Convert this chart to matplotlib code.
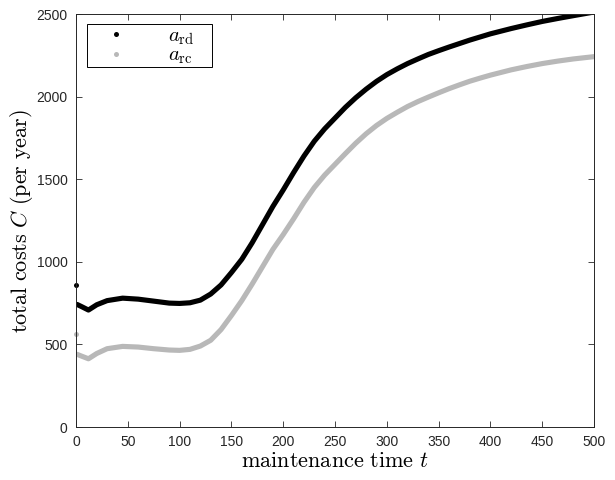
import numpy as np
import matplotlib
matplotlib.use("Agg")
import matplotlib.pyplot as plt
from matplotlib.patches import Rectangle

# =============================================================================
# Data
# =============================================================================

t = [1, 5, 12, 20, 30, 45, 60, 75, 90, 100, 110, 120, 130, 140, 150, 160, 170,
     180, 190, 200, 210, 220, 230, 240, 250, 260, 270, 280, 290, 300, 310, 320,
     330, 340, 350, 360, 370, 380, 390, 400, 410, 420, 435, 450, 465, 480, 490,
     500]

cost_rd = [742, 730, 708, 740, 765, 780, 774, 762, 750, 748, 752, 768, 805, 860,
           935, 1015, 1115, 1225, 1335, 1435, 1540, 1640, 1730, 1805, 1870, 1935,
           1993, 2045, 2092, 2133, 2168, 2200, 2228, 2255, 2278, 2300, 2321, 2342,
           2361, 2380, 2396, 2412, 2434, 2455, 2473, 2490, 2501, 2512]

cost_rc = [440, 430, 413, 445, 474, 488, 484, 474, 466, 464, 470, 490, 525, 590,
           675, 765, 865, 970, 1075, 1165, 1260, 1360, 1450, 1525, 1590, 1655,
           1718, 1775, 1825, 1868, 1905, 1940, 1970, 1997, 2023, 2048, 2071, 2093,
           2112, 2130, 2146, 2162, 2182, 2200, 2215, 2228, 2235, 2242]

# value at t = 0 (separate point)
t0 = [0]
cost_rd0 = [857]
cost_rc0 = [560]

labels = [r'$a_{\mathrm{rd}}$', r'$a_{\mathrm{rc}}$']
xticks = np.arange(0, 501, 50)
yticks = np.arange(0, 2501, 500)

# =============================================================================
# Plot
# =============================================================================

plt.rcParams['mathtext.fontset'] = 'cm'
plt.rcParams['font.family'] = 'Liberation Sans'

BLACK = 'k'
GRAY = (0.72, 0.72, 0.72)

fig = plt.figure(figsize=(6.15, 4.8), dpi=100)
ax = fig.add_axes([0.1236, 0.1104, 0.8423, 0.8604])

ax.plot(t0, cost_rd0, 'o', color=BLACK, ms=3.6, mew=0, label=labels[0], clip_on=False)
ax.plot(t0, cost_rc0, 'o', color=GRAY, ms=3.6, mew=0, label=labels[1], clip_on=False)
ax.plot(t, cost_rd, '-', color=BLACK, lw=3.7, solid_capstyle='round')
ax.plot(t, cost_rc, '-', color=GRAY, lw=3.7, solid_capstyle='round')

ax.set_xlim(0, 500)
ax.set_ylim(0, 2500)
ax.set_xticks(xticks)
ax.set_yticks(yticks)
ax.tick_params(direction='in', top=True, right=True, length=4, width=0.6,
               labelsize=10, colors='#262626')
ax.tick_params(axis='x', pad=6)
ax.tick_params(axis='y', pad=6)
for sp in ax.spines.values():
    sp.set_linewidth(0.7)
    sp.set_color('#262626')

ax.set_xlabel(r'$\mathrm{maintenance\ time}\ t$', fontsize=16, labelpad=1)
ax.set_ylabel(r'$\mathrm{total\ costs}\ C\ \mathrm{(per\ year)}$', fontsize=16, labelpad=1)

# legend box like MATLAB (wider than its contents)
ax.add_patch(Rectangle((0.0212, 0.8717), 0.2413, 0.1041, transform=ax.transAxes,
                       facecolor='white', edgecolor='k', lw=0.7, zorder=4))
leg = ax.legend(loc='upper left', bbox_to_anchor=(0.045, 0.97), fontsize=15,
                frameon=False, handlelength=1.6, handletextpad=1.7, borderpad=0,
                labelspacing=-0.05, borderaxespad=0)
leg.set_zorder(5)

fig.savefig('out.png', dpi=100)
